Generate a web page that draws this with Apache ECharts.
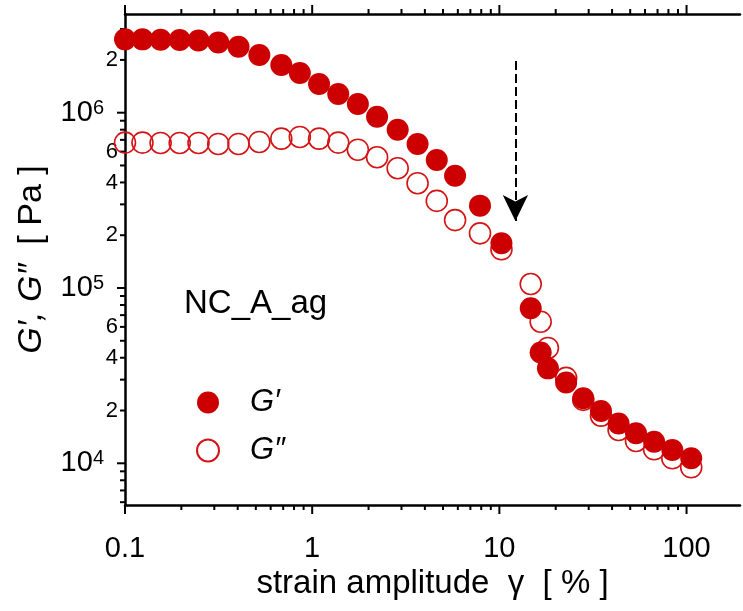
<!DOCTYPE html>
<html><head><meta charset="utf-8">
<script src="https://cdn.jsdelivr.net/npm/echarts@6/dist/echarts.min.js"></script>
<style>html,body{margin:0;padding:0;background:#fff}#c{width:743px;height:611px}</style>
</head><body><div id="c"></div>
<script>
// strain amplitude gamma [%]
const strain = [0.1,0.124,0.155,0.196,0.247,0.315,0.404,0.522,0.684,0.859,1.088,1.378,1.754,2.222,2.862,3.656,4.63,5.80,7.88,10.26,14.71,16.62,18.17,22.74,28.07,34.90,43.35,53.71,67.09,83.95,105.9];
// G' [Pa] (filled)
const gPrime = [2.62e6,2.62e6,2.61e6,2.60e6,2.58e6,2.515e6,2.38e6,2.135e6,1.872e6,1.685e6,1.458e6,1.279e6,1.121e6,9.49e5,8.0e5,6.63e5,5.37e5,4.37e5,2.95e5,1.80e5,7.66e4,4.29e4,3.48e4,2.89e4,2.35e4,1.99e4,1.687e4,1.483e4,1.328e4,1.191e4,1.068e4];
// G'' [Pa] (open)
const gDouble = [6.75e5,6.75e5,6.72e5,6.72e5,6.72e5,6.63e5,6.63e5,6.81e5,7.11e5,7.27e5,7.11e5,6.75e5,6.15e5,5.57e5,4.82e5,3.96e5,3.14e5,2.44e5,2.05e5,1.663e5,1.054e5,6.42e4,4.55e4,3.07e4,2.30e4,1.87e4,1.549e4,1.341e4,1.202e4,1.068e4,9.49e3];

const xTickLabels = [0.1, 1, 10, 100];
const yTickLabels = [1e4, 1e5, 1e6];
const yMinorLabelValues = [2e4, 4e4, 6e4, 2e5, 4e5, 6e5, 2e6];
const arrowX = 12.18;
const arrowY = [1.97e6, 2.41e5];
const sampleName = 'NC_A_ag';

const xMin = 0.1, xMax = 193, yMin = 5782, yMax = 3.656e6;
const RED = '#cc0000';

// tick marks (axis decoration)
const ticks = [];
[0.1, 1, 10, 100].forEach(d => {
  for (let m = 1; m <= 9; m++) {
    const v = d * m;
    if (v < xMin - 1e-9 || v > xMax) continue;
    const major = m === 1;
    ticks.push([v, yMin, 0, major ? 9 : 5]);
    ticks.push([v, yMax, 1, major ? 9 : 5]);
  }
});
[1e3, 1e4, 1e5, 1e6].forEach(d => {
  for (let m = 1; m <= 9; m++) {
    const v = d * m;
    if (v < yMin || v > yMax) continue;
    ticks.push([xMin, v, 2, m === 1 ? 8 : 5]);
  }
});
const minorLabelData = yMinorLabelValues.map(v => [xMin, v, String(Math.round(v / Math.pow(10, Math.floor(Math.log10(v)))))]);

const chart = echarts.init(document.getElementById('c'));
const FONT = 'Liberation Sans, Arial, sans-serif';
chart.setOption({
  animation: false,
  backgroundColor: '#fff',
  textStyle: { fontFamily: FONT },
  grid: { left: 125, right: 0, top: 14, bottom: 106, containLabel: false },
  xAxis: [{
    type: 'log', logBase: 10, min: xMin, max: xMax, position: 'bottom',
    axisLine: { show: true, onZero: false, lineStyle: { color: '#000', width: 2.5 } },
    axisTick: { show: false }, splitLine: { show: false },
    axisLabel: {
      color: '#000', fontSize: 29, margin: 29, fontFamily: FONT,
      formatter: v => {
        const e = Math.log10(v);
        if (Math.abs(e - Math.round(e)) > 1e-6) return '';
        return String(+v.toPrecision(3));
      }
    },
    name: 'strain amplitude  \u03b3  [ % ]', nameLocation: 'middle', nameGap: 59,
    nameTextStyle: { color: '#000', fontSize: 33, fontFamily: FONT }
  }, {
    type: 'log', logBase: 10, min: xMin, max: xMax, position: 'top',
    axisLine: { show: true, onZero: false, lineStyle: { color: '#000', width: 2.5 } },
    axisTick: { show: false }, axisLabel: { show: false }, splitLine: { show: false }
  }],
  yAxis: [{
    type: 'log', logBase: 10, min: yMin, max: yMax, position: 'left',
    axisLine: { show: true, onZero: false, lineStyle: { color: '#000', width: 2.5 } },
    axisTick: { show: false }, splitLine: { show: false },
    axisLabel: {
      color: '#000', margin: 21, fontFamily: FONT,
      formatter: v => {
        const e = Math.log10(v);
        if (Math.abs(e - Math.round(e)) > 1e-6) return '';
        return '{b|10}{e|' + Math.round(e) + '}';
      },
      rich: {
        b: { fontSize: 29, lineHeight: 29, verticalAlign: 'bottom', color: '#000', fontFamily: FONT },
        e: { fontSize: 20, lineHeight: 20, verticalAlign: 'top', padding: [0, 0, 16, 0], color: '#000', fontFamily: FONT }
      }
    },
    name: '{i|G\u2032, G\u2033}  [ Pa ]', nameLocation: 'middle', nameGap: 76,
    nameTextStyle: {
      color: '#000', fontSize: 34, fontFamily: FONT,
      rich: { i: { fontStyle: 'italic', fontSize: 34, color: '#000', fontFamily: FONT } }
    }
  }],
  legend: {
    left: 191, top: 382, orient: 'vertical', itemWidth: 22, itemHeight: 22, itemGap: 17,
    selectedMode: false, data: ['G\u2032', 'G\u2033'],
    textStyle: { fontSize: 31, fontStyle: 'italic', color: '#000', lineHeight: 22, padding: [0, 0, 0, 26], fontFamily: FONT }
  },
  graphic: [{
    type: 'text', left: 184, top: 287,
    style: { text: sampleName, fontSize: 33, fill: '#000', fontFamily: FONT }
  }],
  series: [{
    name: 'G\u2033', type: 'scatter', symbol: 'circle', symbolSize: 21, z: 3,
    itemStyle: { color: 'rgba(255,255,255,0)', borderColor: '#d41414', borderWidth: 1.6, opacity: 1 },
    data: strain.map((s, i) => [s, gDouble[i]])
  }, {
    name: 'G\u2032', type: 'scatter', symbol: 'circle', symbolSize: 22, z: 4,
    itemStyle: { color: RED, opacity: 1 },
    data: strain.map((s, i) => [s, gPrime[i]]),
    markLine: {
      silent: true, animation: false, symbol: ['none', 'arrow'], symbolSize: [19, 26],
      label: { show: false },
      lineStyle: { color: '#000', width: 2, type: [9, 4], opacity: 1 },
      itemStyle: { color: '#000' },
      data: [[{ coord: [arrowX, arrowY[0]] }, { coord: [arrowX, arrowY[1]] }]]
    }
  }, {
    type: 'custom', silent: true, z: 1,
    data: ticks, encode: { x: 0, y: 1 },
    renderItem: (params, api) => {
      const p = api.coord([api.value(0), api.value(1)]);
      const side = api.value(2), len = api.value(3);
      let shape;
      if (side === 0) shape = { x1: p[0], y1: p[1], x2: p[0], y2: p[1] + len };
      else if (side === 1) shape = { x1: p[0], y1: p[1], x2: p[0], y2: p[1] - len };
      else shape = { x1: p[0], y1: p[1], x2: p[0] - len, y2: p[1] };
      return { type: 'line', shape, style: { stroke: '#000', lineWidth: 2 } };
    }
  }, {
    type: 'custom', silent: true, z: 1,
    data: minorLabelData, encode: { x: 0, y: 1 },
    renderItem: (params, api) => {
      const p = api.coord([api.value(0), api.value(1)]);
      return {
        type: 'text', x: p[0] - 7, y: p[1],
        style: { text: minorLabelData[params.dataIndex][2], fontSize: 22, fontFamily: FONT, fill: '#000', align: 'right', verticalAlign: 'middle' }
      };
    }
  }]
});
</script></body></html>
